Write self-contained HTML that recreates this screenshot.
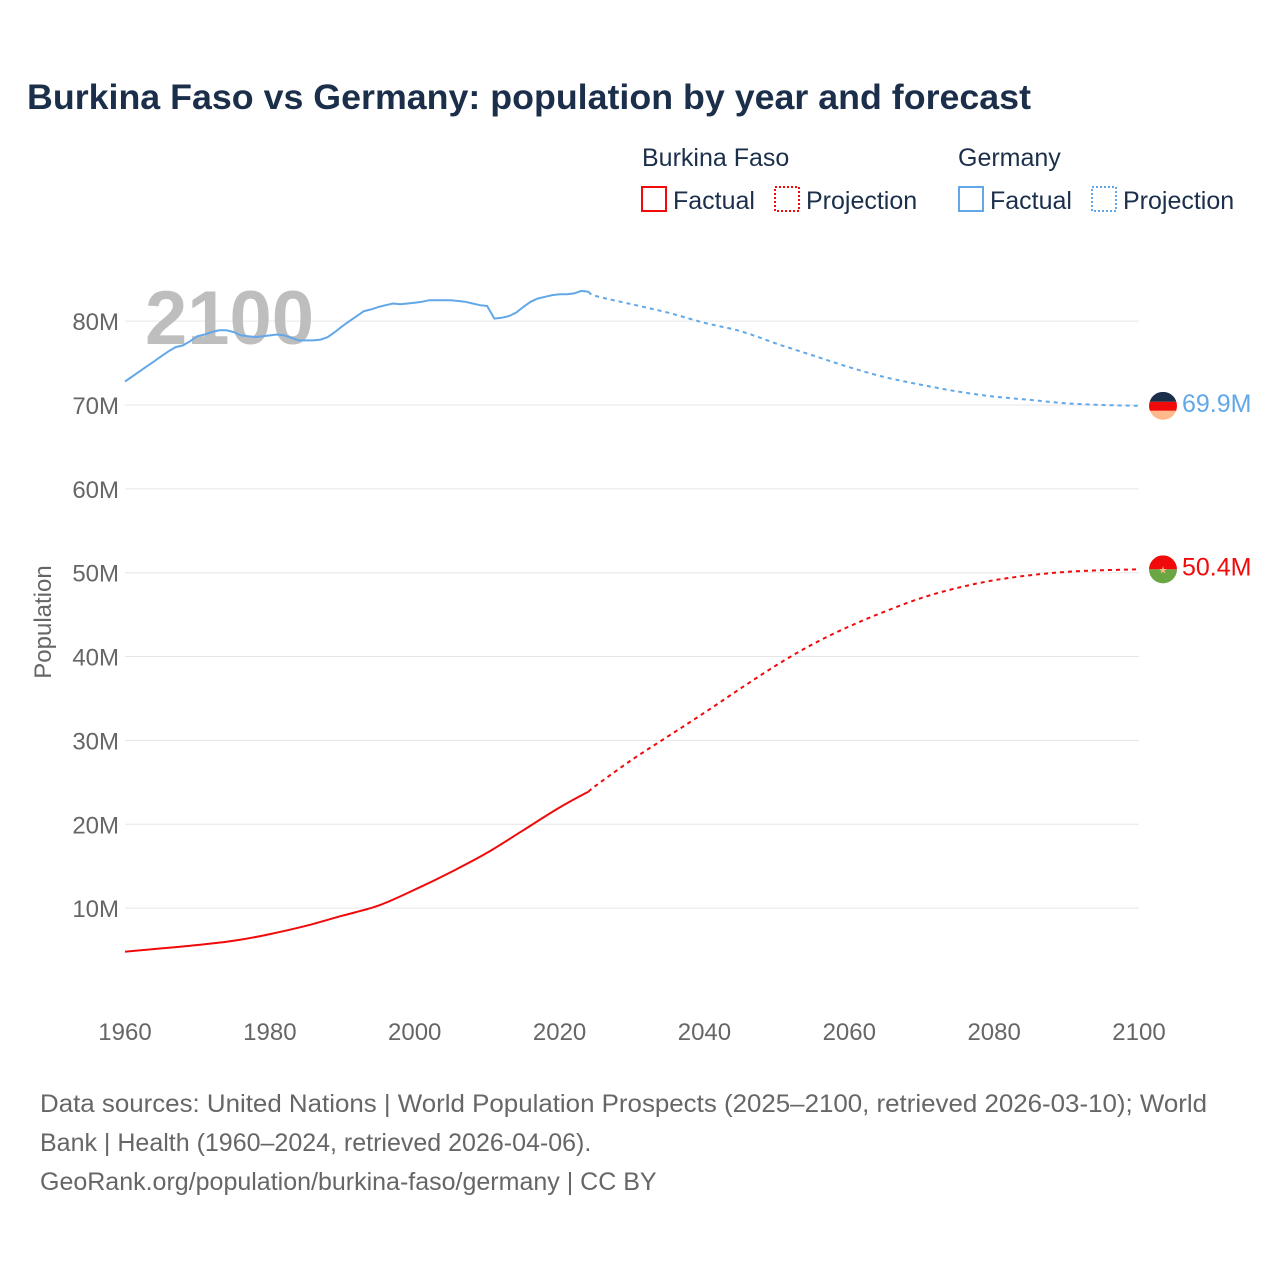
<!DOCTYPE html>
<html><head><meta charset="utf-8"><style>
body{margin:0;background:#fff;font-family:"Liberation Sans",sans-serif}
</style></head><body>
<svg id="c" width="1280" height="1280" xmlns="http://www.w3.org/2000/svg" font-family="Liberation Sans, sans-serif">
<text x="27" y="109" font-size="35" font-weight="bold" fill="#1b2f4b" textLength="1004" lengthAdjust="spacingAndGlyphs">Burkina Faso vs Germany: population by year and forecast</text>
<g font-size="25" fill="#1b2f4b">
<text x="642" y="166">Burkina Faso</text>
<text x="958" y="166">Germany</text>
<rect x="642" y="187" width="24" height="24" fill="none" stroke="#f00a0a" stroke-width="2"/>
<text x="673" y="209">Factual</text>
<rect x="775" y="187" width="24" height="24" fill="none" stroke="#f00a0a" stroke-width="2" stroke-dasharray="2,2"/>
<text x="806" y="209">Projection</text>
<rect x="959" y="187" width="24" height="24" fill="none" stroke="#62a8e8" stroke-width="2"/>
<text x="990" y="209">Factual</text>
<rect x="1092" y="187" width="24" height="24" fill="none" stroke="#62a8e8" stroke-width="2" stroke-dasharray="2,2"/>
<text x="1123" y="209">Projection</text>
</g>
<g id="grid"></g>
<text x="145" y="344" font-size="76" font-weight="bold" fill="#bbbbbb" fill-opacity="0.95">2100</text>
<g id="marks"></g>
<text transform="translate(51,622) rotate(-90)" text-anchor="middle" font-size="24" fill="#666">Population</text>
<g font-size="25" fill="#666">
<text x="40" y="1112" textLength="1167" lengthAdjust="spacingAndGlyphs">Data sources: United Nations | World Population Prospects (2025–2100, retrieved 2026-03-10); World</text>
<text x="40" y="1151">Bank | Health (1960–2024, retrieved 2026-04-06).</text>
<text x="40" y="1190">GeoRank.org/population/burkina-faso/germany | CC BY</text>
</g>
</svg>
<script>
const yTicks=[10,20,30,40,50,60,70,80];
const xTicks=[1960,1980,2000,2020,2040,2060,2080,2100];
const deFactYears=[];for(let y=1960;y<=2024;y++)deFactYears.push(y);
const deFact=[72.8,73.4,74.0,74.6,75.2,75.8,76.4,76.9,77.1,77.6,78.2,78.4,78.7,78.9,78.9,78.7,78.3,78.2,78.1,78.2,78.3,78.4,78.3,78.0,77.7,77.7,77.7,77.8,78.1,78.7,79.4,80.0,80.6,81.2,81.4,81.7,81.9,82.1,82.0,82.1,82.2,82.3,82.5,82.5,82.5,82.5,82.4,82.3,82.1,81.9,81.8,80.3,80.4,80.6,81.0,81.7,82.3,82.7,82.9,83.1,83.2,83.2,83.3,83.6,83.5];
const projYears=[2024,2025,2030,2035,2040,2045,2050,2055,2060,2065,2070,2075,2080,2085,2090,2095,2100];
const deProj=[83.5,83.0,82.0,81.0,79.8,78.8,77.3,75.9,74.5,73.3,72.4,71.6,71.0,70.6,70.2,70.0,69.9];
const bfFactYears=[1960,1965,1970,1975,1980,1985,1990,1995,2000,2005,2010,2015,2020,2024];
const bfFact=[4.8,5.2,5.6,6.1,6.9,7.9,9.1,10.3,12.2,14.3,16.6,19.3,22.0,23.9];
const bfProj=[23.9,24.6,27.7,30.5,33.3,36.2,39.0,41.5,43.6,45.4,47.0,48.2,49.1,49.7,50.1,50.3,50.4];
const X=y=>125+(y-1960)*(1014/140);
const Y=v=>992-v*8.386;
const NS="http://www.w3.org/2000/svg";
const grid=document.getElementById('grid'),marks=document.getElementById('marks');
function mk(tag,attrs,parent){const e=document.createElementNS(NS,tag);for(const k in attrs)e.setAttribute(k,attrs[k]);parent.appendChild(e);return e;}
yTicks.forEach(v=>{
 const l=mk('line',{x1:125,x2:1139,y1:Y(v),y2:Y(v),stroke:'#e6e6e6','stroke-width':1},grid);
 
 
 const t=mk('text',{x:119,y:Y(v)+9,'text-anchor':'end','font-size':24,fill:'#666'},grid);
 
 
 t.textContent=v+'M';
});
xTicks.forEach(v=>{
 const t=mk('text',{x:X(v),y:1040,'text-anchor':'middle','font-size':24,fill:'#666'},grid);
 
 
 t.textContent=v;
});
function smoothPath(pts){
 let d='M'+pts[0][0].toFixed(1)+','+pts[0][1].toFixed(1);
 for(let i=0;i<pts.length-1;i++){
  const p0=pts[Math.max(0,i-1)],p1=pts[i],p2=pts[i+1],p3=pts[Math.min(pts.length-1,i+2)];
  const c1x=p1[0]+(p2[0]-p0[0])/6,c1y=p1[1]+(p2[1]-p0[1])/6;
  const c2x=p2[0]-(p3[0]-p1[0])/6,c2y=p2[1]-(p3[1]-p1[1])/6;
  d+='C'+c1x.toFixed(1)+','+c1y.toFixed(1)+' '+c2x.toFixed(1)+','+c2y.toFixed(1)+' '+p2[0].toFixed(1)+','+p2[1].toFixed(1);
 }
 return d;
}
function line(xs,vs,color,dash,name,smooth){
 const pts=xs.map((x,i)=>[X(x),Y(vs[i])]);
 const d=smooth?smoothPath(pts):pts.map((p,i)=>(i?'L':'M')+p[0].toFixed(1)+','+p[1].toFixed(1)).join('');
 const p=mk('path',{d:d,fill:'none',stroke:color,'stroke-width':2},marks);
 if(dash)p.setAttribute('stroke-dasharray','4,4');
 
 
}
line(deFactYears,deFact,'#62a8e8',false,'germany-factual-line',false);
line(projYears,deProj,'#62a8e8',true,'germany-projection-line',true);
line(bfFactYears,bfFact,'#f00a0a',false,'burkina-factual-line',true);
line(projYears,bfProj,'#f00a0a',true,'burkina-projection-line',true);
const cx=1163;
const dy=Y(deProj[deProj.length-1]),by=Y(bfProj[bfProj.length-1]);
const g1=mk('g',{},marks);


mk('clipPath',{id:'cp1'},g1).appendChild(document.createElementNS(NS,'circle')).setAttribute('r',14);
document.querySelector('#cp1 circle').setAttribute('cx',cx);document.querySelector('#cp1 circle').setAttribute('cy',dy);
const gg=mk('g',{'clip-path':'url(#cp1)'},g1);
mk('rect',{x:cx-14,y:dy-14,width:28,height:10,fill:'#1b2f4b'},gg);
mk('rect',{x:cx-14,y:dy-4,width:28,height:9,fill:'#f00a0a'},gg);
mk('rect',{x:cx-14,y:dy+5,width:28,height:10,fill:'#ffb98a'},gg);
const g2=mk('g',{},marks);


mk('clipPath',{id:'cp2'},g2).appendChild(document.createElementNS(NS,'circle')).setAttribute('r',14);
document.querySelector('#cp2 circle').setAttribute('cx',cx);document.querySelector('#cp2 circle').setAttribute('cy',by);
const gb=mk('g',{'clip-path':'url(#cp2)'},g2);
mk('rect',{x:cx-14,y:by-14,width:28,height:14,fill:'#f00a0a'},gb);
mk('rect',{x:cx-14,y:by,width:28,height:15,fill:'#6aa644'},gb);
const st=mk('text',{x:cx,y:by+4,'text-anchor':'middle','font-size':10,fill:'#ffb98a'},g2);st.textContent='★';
const l1=mk('text',{x:1182,y:dy+6,'font-size':25,fill:'#62a8e8'},marks);


l1.textContent=deProj[deProj.length-1]+'M';
const l2=mk('text',{x:1182,y:by+6,'font-size':25,fill:'#f00a0a'},marks);


l2.textContent=bfProj[bfProj.length-1]+'M';
</script>
</body></html>
